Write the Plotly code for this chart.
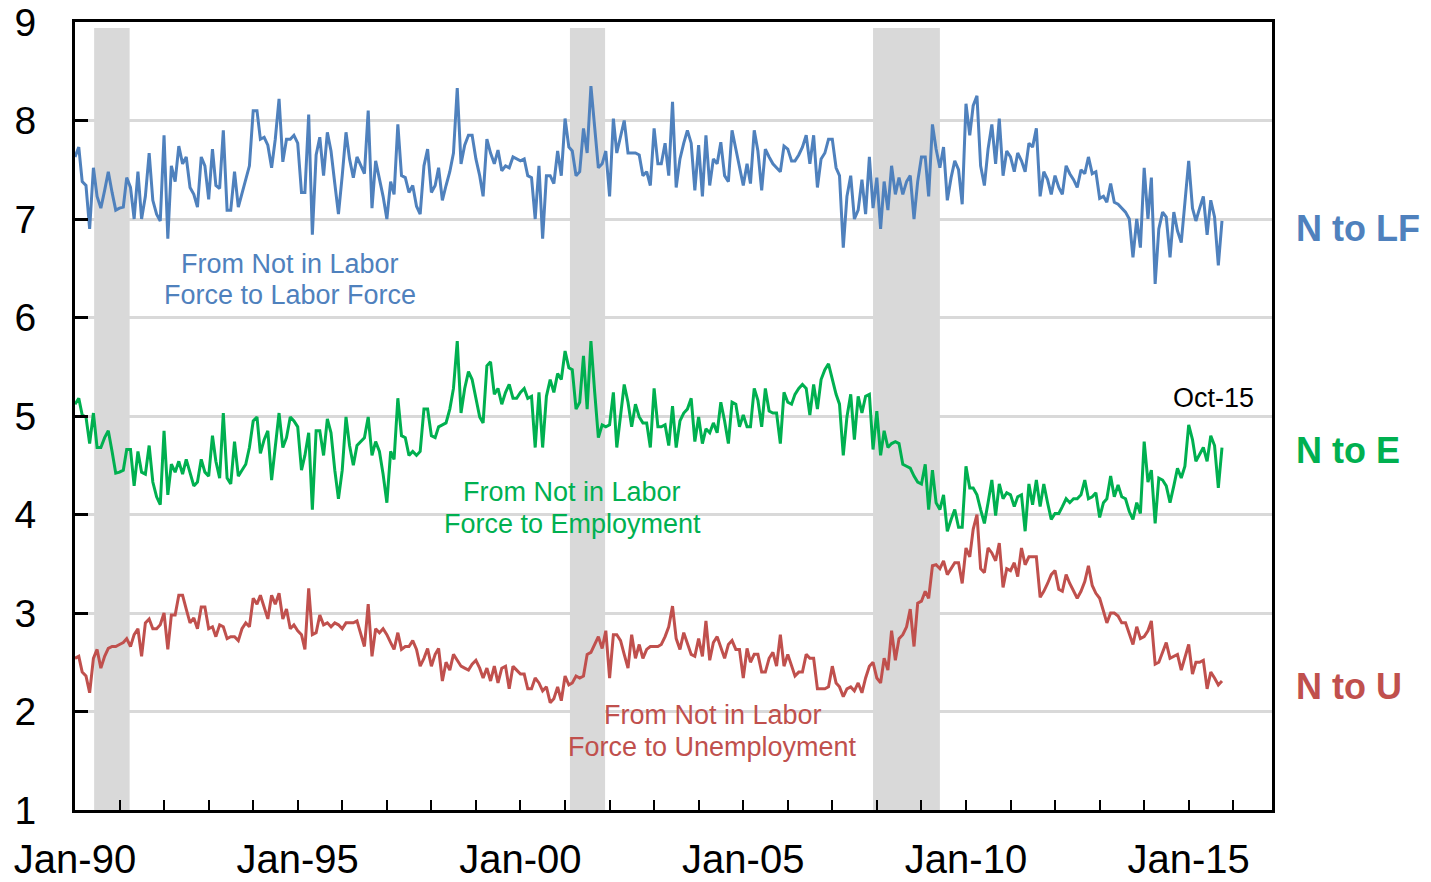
import pandas as pd
import plotly.graph_objects as go

# monthly flow rates, Jan-1990 .. Oct-2015 (one row per year)
start_month = "1990-01-01"

n_to_lf = [
    7.63, 7.73, 7.38, 7.34, 6.90, 7.52, 7.23, 7.11, 7.29, 7.48, 7.27, 7.09,
    7.11, 7.12, 7.42, 7.32, 7.00, 7.48, 7.00, 7.23, 7.67, 7.19, 7.05, 6.98,
    7.85, 6.80, 7.54, 7.38, 7.74, 7.56, 7.63, 7.32, 7.25, 7.12, 7.63, 7.54,
    7.20, 7.71, 7.34, 7.31, 7.90, 7.09, 7.09, 7.48, 7.12, 7.25, 7.40, 7.54,
    8.10, 8.10, 7.81, 7.83, 7.75, 7.52, 7.81, 8.22, 7.58, 7.81, 7.81, 7.85,
    7.77, 7.27, 7.27, 8.06, 6.84, 7.65, 7.83, 7.44, 7.88, 7.69, 7.36, 7.05,
    7.44, 7.88, 7.61, 7.42, 7.63, 7.54, 7.46, 8.10, 7.11, 7.59, 7.40, 7.23,
    7.00, 7.38, 7.25, 7.96, 7.44, 7.42, 7.27, 7.34, 7.13, 7.05, 7.54, 7.71,
    7.27, 7.34, 7.52, 7.19, 7.34, 7.48, 7.67, 8.33, 7.56, 7.75, 7.85, 7.85,
    7.61, 7.44, 7.23, 7.81, 7.67, 7.56, 7.70, 7.49, 7.54, 7.52, 7.63, 7.61,
    7.59, 7.61, 7.44, 7.42, 7.00, 7.54, 6.80, 7.44, 7.44, 7.36, 7.69, 7.44,
    8.02, 7.73, 7.69, 7.44, 7.48, 7.92, 7.67, 8.35, 7.92, 7.52, 7.56, 7.69,
    7.23, 8.02, 7.67, 7.85, 8.00, 7.67, 7.67, 7.67, 7.65, 7.44, 7.48, 7.34,
    7.92, 7.56, 7.56, 7.77, 7.44, 8.19, 7.32, 7.61, 7.77, 7.90, 7.77, 7.29,
    7.75, 7.23, 7.85, 7.34, 7.61, 7.56, 7.78, 7.44, 7.38, 7.90, 7.71, 7.54,
    7.34, 7.56, 7.36, 7.90, 7.69, 7.29, 7.71, 7.63, 7.56, 7.52, 7.48, 7.74,
    7.71, 7.59, 7.59, 7.65, 7.73, 7.85, 7.56, 7.85, 7.32, 7.61, 7.67, 7.81,
    7.81, 7.52, 7.44, 6.71, 7.23, 7.44, 7.00, 7.09, 7.40, 7.05, 7.63, 7.11,
    7.42, 6.90, 7.38, 7.09, 7.54, 7.25, 7.42, 7.25, 7.38, 7.44, 7.00, 7.38,
    7.63, 7.63, 7.23, 7.96, 7.71, 7.52, 7.73, 7.19, 7.42, 7.59, 7.50, 7.15,
    8.17, 7.85, 8.15, 8.25, 7.54, 7.34, 7.71, 7.96, 7.56, 8.02, 7.44, 7.69,
    7.63, 7.48, 7.67, 7.59, 7.48, 7.77, 7.73, 7.92, 7.23, 7.48, 7.40, 7.25,
    7.44, 7.32, 7.25, 7.54, 7.46, 7.40, 7.32, 7.50, 7.46, 7.63, 7.46, 7.48,
    7.21, 7.23, 7.17, 7.36, 7.17, 7.15, 7.11, 7.07, 7.00, 6.61, 7.00, 6.71,
    7.52, 7.00, 7.42, 6.34, 6.90, 7.07, 7.02, 6.61, 7.07, 6.88, 6.76, 7.15,
    7.59, 7.11, 6.98, 7.11, 7.23, 6.84, 7.19, 7.02, 6.53, 6.98,
]

n_to_e = [
    5.12, 5.18, 5.01, 4.99, 4.72, 5.03, 4.68, 4.68, 4.78, 4.85, 4.64, 4.42,
    4.43, 4.45, 4.66, 4.66, 4.29, 4.64, 4.43, 4.41, 4.70, 4.33, 4.18, 4.10,
    4.85, 4.20, 4.51, 4.43, 4.54, 4.41, 4.56, 4.41, 4.29, 4.33, 4.56, 4.43,
    4.39, 4.80, 4.54, 4.37, 5.03, 4.37, 4.31, 4.74, 4.39, 4.45, 4.51, 4.68,
    4.95, 4.99, 4.62, 4.76, 4.85, 4.35, 4.70, 5.03, 4.68, 4.78, 4.99, 4.95,
    4.89, 4.45, 4.60, 4.83, 4.05, 4.85, 4.85, 4.60, 4.97, 4.83, 4.45, 4.16,
    4.45, 4.99, 4.70, 4.50, 4.70, 4.74, 4.78, 4.99, 4.60, 4.74, 4.64, 4.41,
    4.12, 4.64, 4.56, 5.18, 4.80, 4.78, 4.60, 4.64, 4.60, 4.64, 5.07, 5.07,
    4.80, 4.78, 4.89, 4.91, 4.93, 5.07, 5.28, 5.76, 5.03, 5.28, 5.45, 5.37,
    5.16, 4.99, 4.93, 5.51, 5.55, 5.22, 5.28, 5.12, 5.24, 5.32, 5.18, 5.18,
    5.24, 5.28, 5.18, 5.20, 4.68, 5.24, 4.68, 5.20, 5.37, 5.24, 5.43, 5.37,
    5.66, 5.49, 5.47, 5.07, 5.14, 5.61, 5.07, 5.76, 5.24, 4.78, 4.91, 4.89,
    4.91, 5.24, 4.68, 4.99, 5.32, 5.14, 4.89, 5.12, 4.99, 4.93, 4.93, 4.68,
    5.28, 4.89, 4.89, 4.91, 4.70, 5.10, 4.68, 4.95, 5.03, 5.07, 5.18, 4.74,
    4.99, 4.72, 4.87, 4.83, 4.93, 4.83, 5.14, 4.95, 4.72, 5.14, 5.12, 4.89,
    5.01, 4.89, 4.89, 5.28, 5.16, 4.89, 5.28, 5.05, 5.03, 5.03, 4.72, 5.24,
    5.14, 5.12, 5.22, 5.28, 5.32, 5.28, 5.01, 5.32, 5.07, 5.37, 5.47, 5.53,
    5.37, 5.22, 5.12, 4.60, 4.99, 5.22, 4.76, 5.20, 5.03, 5.20, 5.22, 4.66,
    5.05, 4.60, 4.85, 4.68, 4.72, 4.74, 4.72, 4.51, 4.49, 4.47, 4.39, 4.33,
    4.31, 4.51, 4.05, 4.45, 4.12, 4.05, 4.20, 3.83, 3.95, 4.05, 3.87, 3.87,
    4.49, 4.27, 4.27, 4.20, 4.05, 3.91, 4.12, 4.35, 3.99, 4.31, 4.16, 4.22,
    4.20, 4.08, 4.18, 4.20, 3.83, 4.31, 4.10, 4.35, 4.08, 4.31, 4.12, 3.95,
    4.01, 4.01, 4.08, 4.16, 4.12, 4.16, 4.16, 4.20, 4.35, 4.16, 4.18, 4.22,
    3.97, 4.12, 4.16, 4.39, 4.18, 4.30, 4.18, 4.16, 4.03, 3.95, 4.12, 4.01,
    4.74, 4.33, 4.45, 3.91, 4.37, 4.35, 4.29, 4.12, 4.29, 4.47, 4.37, 4.49,
    4.91, 4.76, 4.54, 4.62, 4.68, 4.54, 4.80, 4.70, 4.27, 4.68,
]

n_to_u = [
    2.54, 2.56, 2.40, 2.36, 2.19, 2.54, 2.63, 2.44, 2.56, 2.64, 2.66, 2.66,
    2.68, 2.70, 2.74, 2.66, 2.78, 2.84, 2.56, 2.90, 2.94, 2.84, 2.84, 2.88,
    3.00, 2.63, 2.98, 2.98, 3.18, 3.18, 3.04, 2.90, 2.95, 2.84, 3.06, 3.06,
    2.84, 2.86, 2.76, 2.88, 2.86, 2.74, 2.76, 2.76, 2.72, 2.84, 2.90, 2.86,
    3.15, 3.09, 3.18, 3.06, 2.94, 3.18, 3.09, 3.20, 2.94, 3.04, 2.84, 2.88,
    2.82, 2.78, 2.63, 3.25, 2.78, 2.80, 2.98, 2.88, 2.90, 2.86, 2.90, 2.88,
    2.84, 2.90, 2.90, 2.90, 2.92, 2.80, 2.66, 3.09, 2.56, 2.84, 2.80, 2.84,
    2.78, 2.70, 2.63, 2.80, 2.63, 2.66, 2.66, 2.72, 2.63, 2.46, 2.54, 2.64,
    2.46, 2.58, 2.64, 2.31, 2.50, 2.42, 2.58, 2.52, 2.46, 2.44, 2.42, 2.48,
    2.52, 2.44, 2.34, 2.44, 2.31, 2.46, 2.29, 2.44, 2.46, 2.23, 2.46, 2.42,
    2.38, 2.38, 2.23, 2.23, 2.34, 2.29, 2.21, 2.25, 2.09, 2.13, 2.25, 2.11,
    2.36, 2.27, 2.29, 2.36, 2.34, 2.36, 2.58, 2.60, 2.68, 2.76, 2.64, 2.82,
    2.34, 2.78, 2.78, 2.72, 2.58, 2.44, 2.78, 2.54, 2.68, 2.54, 2.63, 2.66,
    2.66, 2.66, 2.68, 2.76, 2.86, 3.07, 2.74, 2.63, 2.80, 2.70, 2.58, 2.56,
    2.74, 2.56, 2.92, 2.52, 2.70, 2.76, 2.64, 2.54, 2.68, 2.72, 2.63, 2.63,
    2.34, 2.64, 2.50, 2.58, 2.58, 2.40, 2.40, 2.54, 2.60, 2.46, 2.78, 2.46,
    2.58, 2.46, 2.36, 2.40, 2.40, 2.58, 2.54, 2.54, 2.23, 2.23, 2.23, 2.25,
    2.46, 2.29, 2.25, 2.15, 2.23, 2.25, 2.21, 2.29, 2.19, 2.34, 2.46, 2.50,
    2.34, 2.29, 2.54, 2.42, 2.82, 2.52, 2.74, 2.78, 2.86, 3.04, 2.66, 3.10,
    3.12, 3.22, 3.15, 3.48, 3.49, 3.45, 3.53, 3.39, 3.45, 3.51, 3.51, 3.30,
    3.66, 3.57, 3.85, 4.00, 3.45, 3.41, 3.66, 3.61, 3.53, 3.71, 3.26, 3.45,
    3.43, 3.51, 3.37, 3.66, 3.49, 3.57, 3.57, 3.57, 3.16, 3.22, 3.30, 3.39,
    3.43, 3.24, 3.22, 3.39, 3.30, 3.22, 3.15, 3.22, 3.32, 3.48, 3.28, 3.20,
    3.15, 3.02, 2.90, 3.00, 3.00, 2.97, 2.90, 2.90, 2.78, 2.68, 2.86, 2.74,
    2.76, 2.82, 2.92, 2.48, 2.50, 2.60, 2.70, 2.54, 2.56, 2.58, 2.42, 2.54,
    2.68, 2.38, 2.50, 2.50, 2.52, 2.23, 2.40, 2.34, 2.27, 2.31,
]

recessions = [("1990-06-07", "1991-03-25"),
              ("2001-02-10", "2001-11-25"),
              ("2007-12-01", "2009-06-01")]

tick_dates = ["1990-01-01", "1995-01-01", "2000-01-01",
              "2005-01-01", "2010-01-01", "2015-01-01"]
tick_text = ["Jan-90", "Jan-95", "Jan-00", "Jan-05", "Jan-10", "Jan-15"]

BLUE = "#4f81bd"
GREEN = "#00b050"
RED = "#c0504d"
FONT = "Liberation Sans, Arial, sans-serif"

months = pd.date_range(start_month, periods=len(n_to_lf), freq="MS")

fig = go.Figure()
for values, color in [(n_to_lf, BLUE), (n_to_e, GREEN), (n_to_u, RED)]:
    fig.add_trace(go.Scatter(x=months, y=values, mode="lines",
                             line=dict(color=color, width=3), showlegend=False))

# recession shading
for start, end in recessions:
    fig.add_shape(type="rect", xref="x", yref="y", x0=start, x1=end, y0=1, y1=8.94,
                  fillcolor="#d9d9d9", line_width=0, layer="between")

# text labels inside the plot, one annotation per line
notes = [
    ("From Not in Labor", "1994-10-28", 6.54, BLUE),
    ("Force to Labor Force", "1994-10-28", 6.23, BLUE),
    ("From Not in Labor", "2001-02-27", 4.23, GREEN),
    ("Force to Employment", "2001-02-27", 3.90, GREEN),
    ("From Not in Labor", "2004-04-25", 1.96, RED),
    ("Force to Unemployment", "2004-04-25", 1.64, RED),
]
for text, x, y, color in notes:
    fig.add_annotation(text=text, x=x, y=y, xref="x", yref="y", showarrow=False,
                       font=dict(family=FONT, size=27, color=color))

fig.add_annotation(text="Oct-15", x="2015-07-20", y=5.18, xref="x", yref="y",
                   showarrow=False, font=dict(family=FONT, size=27, color="black"))

# series names on the right
for text, y, color in [("N to LF", 6.9, BLUE), ("N to E", 4.65, GREEN), ("N to U", 2.25, RED)]:
    fig.add_annotation(text="<b>%s</b>" % text, x=1.018, y=y, xref="paper", yref="y",
                       xanchor="left", showarrow=False,
                       font=dict(family=FONT, size=36, color=color))

fig.update_xaxes(
    type="date", range=["1990-01-01", "2016-11-14"],
    tickvals=tick_dates, ticktext=tick_text,
    ticks="inside", ticklen=10, tickwidth=2, tickcolor="black",
    minor=dict(ticks="inside", ticklen=10, tickwidth=2, tickcolor="black",
               dtick="M12", tick0="1990-01-01", showgrid=False),
    showgrid=False, showline=True, linecolor="black", linewidth=3, mirror=True,
    tickfont=dict(family=FONT, size=40, color="black"), ticklabelstandoff=12,
    zeroline=False, automargin=False,
)
fig.update_yaxes(
    range=[1, 9], dtick=1, ticks="inside", ticklen=13, tickwidth=3, tickcolor="black",
    showgrid=True, gridcolor="#d9d9d9", gridwidth=3,
    showline=True, linecolor="black", linewidth=3, mirror=True,
    tickfont=dict(family=FONT, size=39, color="black"), ticklabelstandoff=28,
    zeroline=False, automargin=False,
)

fig.update_layout(
    width=1431, height=882,
    margin=dict(l=75, r=159, t=22, b=72),
    paper_bgcolor="white", plot_bgcolor="white",
    font=dict(family=FONT),
)

fig.write_html("out.html", config={"displayModeBar": False},
               post_script="document.body.style.margin='0px';")
